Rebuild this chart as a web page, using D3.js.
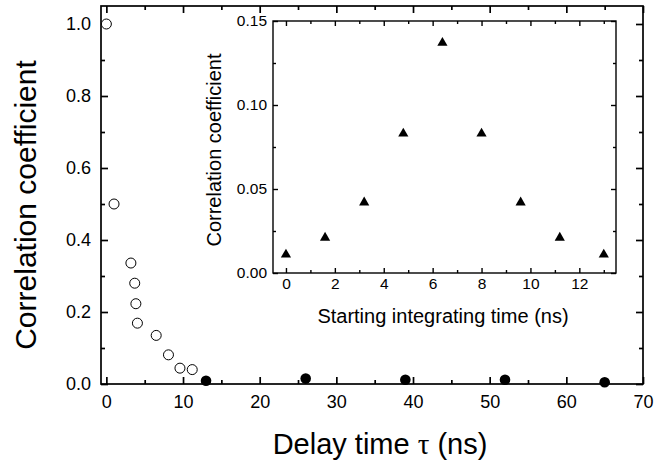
<!DOCTYPE html>
<html>
<head>
<meta charset="utf-8">
<script src="https://cdn.jsdelivr.net/npm/d3@7"></script>
<style>
  body { margin: 0; background: #fff; }
  svg { display: block; font-family: "Liberation Sans", Arial, sans-serif; }
  .axis path, .axis line { stroke: #000; }
  .axis text { fill: #000; }
</style>
</head>
<body>
<svg id="chart" width="655" height="460"></svg>
<script>
// main plot: correlation vs delay time
const openDelay = [0, 1, 3.2, 3.7, 3.85, 4.05, 6.5, 8.1, 9.6, 11.2];
const openCorr = [1.0, 0.50, 0.336, 0.28, 0.223, 0.169, 0.135, 0.081, 0.044, 0.040];
const filledDelay = [13, 26, 39, 52, 65];
const filledCorr = [0.009, 0.015, 0.012, 0.012, 0.005];
const mainXTicks = [0, 10, 20, 30, 40, 50, 60, 70];
const mainYTicks = [0.0, 0.2, 0.4, 0.6, 0.8, 1.0];

// inset: correlation vs starting integrating time
const insetTime = [0, 1.6, 3.2, 4.8, 6.4, 8.0, 9.6, 11.2, 13.0];
const insetCorr = [0.011, 0.021, 0.042, 0.083, 0.137, 0.083, 0.042, 0.021, 0.011];
const insetXTicks = [0, 2, 4, 6, 8, 10, 12];
const insetYTicks = [0.00, 0.05, 0.10, 0.15];

const svg = d3.select("#chart");

// ---- main frame ----
const x = d3.scaleLinear().domain([-0.7, 70]).range([101, 643]);
const y = d3.scaleLinear().domain([0, 1.05]).range([384, 6]);

function frame(xs, ys, o) {
  const [x0, x1] = xs.range(), [y0, y1] = ys.range();
  const minorX = d3.range(o.xMinor[0], o.xMinor[1] + 1e-9, o.xMinor[2]);
  const minorY = d3.range(o.yMinor[0], o.yMinor[1] + 1e-9, o.yMinor[2]);
  const g0 = svg.append("g");

  // minor ticks on all four sides
  g0.append("g").attr("class", "axis").attr("transform", `translate(0,${y0})`)
    .call(d3.axisBottom(xs).tickValues(minorX).tickSize(-o.minor).tickFormat(""))
    .call(g => g.select(".domain").remove());
  g0.append("g").attr("class", "axis").attr("transform", `translate(0,${y1})`)
    .call(d3.axisTop(xs).tickValues(minorX).tickSize(-o.minor).tickFormat(""))
    .call(g => g.select(".domain").remove());
  g0.append("g").attr("class", "axis").attr("transform", `translate(${x0},0)`)
    .call(d3.axisLeft(ys).tickValues(minorY).tickSize(-o.minor).tickFormat(""))
    .call(g => g.select(".domain").remove());
  g0.append("g").attr("class", "axis").attr("transform", `translate(${x1},0)`)
    .call(d3.axisRight(ys).tickValues(minorY).tickSize(-o.minor).tickFormat(""))
    .call(g => g.select(".domain").remove());

  // major ticks, labelled on bottom and left
  g0.append("g").attr("class", "axis").attr("transform", `translate(0,${y0})`)
    .call(d3.axisBottom(xs).tickValues(o.xTicks).tickSize(-o.major).tickPadding(o.xPad).tickFormat(d3.format("d")))
    .call(g => g.select(".domain").remove())
    .selectAll("text").style("font-size", o.tickFont + "px");
  g0.append("g").attr("class", "axis").attr("transform", `translate(0,${y1})`)
    .call(d3.axisTop(xs).tickValues(o.xTicks).tickSize(-o.major).tickFormat(""))
    .call(g => g.select(".domain").remove());
  g0.append("g").attr("class", "axis").attr("transform", `translate(${x0},0)`)
    .call(d3.axisLeft(ys).tickValues(o.yTicks).tickSize(-o.major).tickPadding(o.yPad).tickFormat(d3.format(o.yFmt)))
    .call(g => g.select(".domain").remove())
    .selectAll("text").style("font-size", o.tickFont + "px");
  g0.append("g").attr("class", "axis").attr("transform", `translate(${x1},0)`)
    .call(d3.axisRight(ys).tickValues(o.yTicks).tickSize(-o.major).tickFormat(""))
    .call(g => g.select(".domain").remove());

  g0.selectAll(".axis line").attr("stroke-width", o.lw);

  g0.append("rect")
    .attr("x", x0).attr("y", y1)
    .attr("width", x1 - x0).attr("height", y0 - y1)
    .attr("fill", "none").attr("stroke", "#000").attr("stroke-width", o.lw);
}

frame(x, y, {
  xTicks: mainXTicks, yTicks: mainYTicks,
  xMinor: [5, 65, 10], yMinor: [0.1, 0.9, 0.2],
  major: 7, minor: 4, xPad: 11, yPad: 10, tickFont: 18, yFmt: ".1f", lw: 1.7
});

svg.append("g").selectAll("circle")
  .data(openDelay.map((d, i) => [d, openCorr[i]]))
  .join("circle")
  .attr("cx", d => x(d[0])).attr("cy", d => y(d[1]))
  .attr("r", 5).attr("fill", "#fff").attr("stroke", "#000").attr("stroke-width", 1);

svg.append("g").selectAll("circle")
  .data(filledDelay.map((d, i) => [d, filledCorr[i]]))
  .join("circle")
  .attr("cx", d => x(d[0])).attr("cy", d => y(d[1]))
  .attr("r", 5.3).attr("fill", "#000");

svg.append("text")
  .attr("transform", "translate(36,205) rotate(-90)")
  .attr("text-anchor", "middle")
  .style("font-size", "30px")
  .text("Correlation coefficient");

const xlab = svg.append("text")
  .attr("x", 380).attr("y", 454)
  .attr("text-anchor", "middle")
  .style("font-size", "29px");
xlab.append("tspan").text("Delay time ");
xlab.append("tspan").style("font-family", "'Liberation Serif', 'Times New Roman', serif").text("\u03c4");
xlab.append("tspan").text(" (ns)");

// ---- inset ----
const xi = d3.scaleLinear().domain([-0.53, 13.5]).range([273, 616]);
const yi = d3.scaleLinear().domain([0, 0.15]).range([273, 21]);

svg.append("rect")
  .attr("x", 273).attr("y", 21).attr("width", 343).attr("height", 252)
  .attr("fill", "#fff");

frame(xi, yi, {
  xTicks: insetXTicks, yTicks: insetYTicks,
  xMinor: [1, 13, 2], yMinor: [0.025, 0.125, 0.05],
  major: 5, minor: 3, xPad: 5, yPad: 6, tickFont: 15.5, yFmt: ".2f", lw: 1.4
});

svg.append("g").selectAll("path")
  .data(insetTime.map((d, i) => [d, insetCorr[i]]))
  .join("path")
  .attr("transform", d => `translate(${xi(d[0])},${yi(d[1])})`)
  .attr("d", d3.symbol(d3.symbolTriangle, 45))
  .attr("fill", "#000");

svg.append("text")
  .attr("transform", "translate(221,150) rotate(-90)")
  .attr("text-anchor", "middle")
  .style("font-size", "20px")
  .text("Correlation coefficient");

svg.append("text")
  .attr("x", 443).attr("y", 323)
  .attr("text-anchor", "middle")
  .style("font-size", "20px")
  .text("Starting integrating time (ns)");
</script>
</body>
</html>
